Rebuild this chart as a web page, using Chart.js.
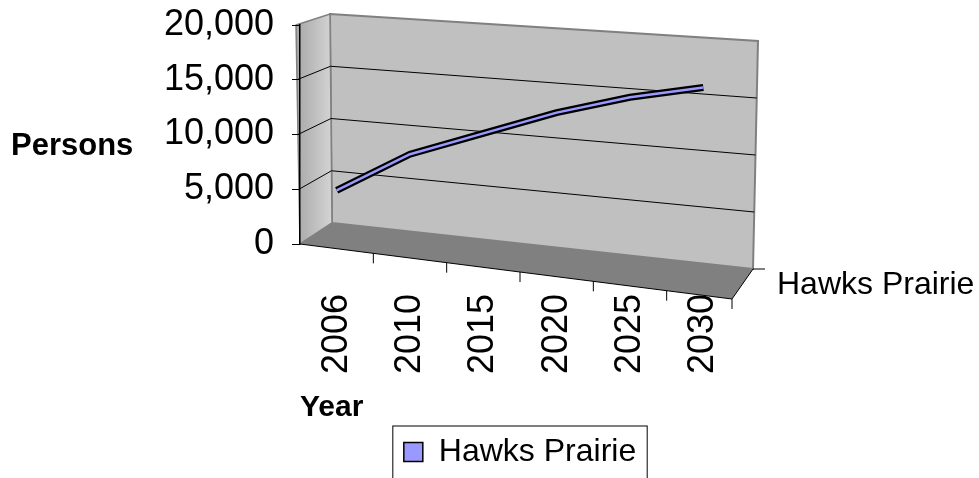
<!DOCTYPE html>
<html>
<head>
<meta charset="utf-8">
<script src="https://cdn.jsdelivr.net/npm/chart.js@4/dist/chart.umd.min.js"></script>
<style>
  body { margin: 0; background: #fff; }
  canvas { display: block; }
</style>
</head>
<body>
<canvas id="popChart" width="979" height="478"></canvas>
<script>
// Data
const years = ['2006', '2010', '2015', '2020', '2025', '2030'];
const persons = [4900, 8200, 10100, 12000, 13400, 14300];
const yTicks = [0, 5000, 10000, 15000, 20000];
const seriesName = 'Hawks Prairie';

const FONT = "'Liberation Sans', Arial, sans-serif";

// Draws the grey 3-D box (walls, floor, gridlines) around the plot area
const boxPlugin = {
    id: 'box3d',
    beforeDraw(chart) {
        const { ctx, chartArea } = chart;
        const L = chartArea.left, R = chartArea.right, T = chartArea.top, B = chartArea.bottom;
        const ys = chart.scales.y;
        const bwTL = [L + 30, T - 11], bwTR = [R + 18, T + 16];
        const bwBR = [R + 13, B + 25], bwBL = [L + 32, B - 21];
        const fr = [R - 8, B + 55];
        const poly = (pts, fill, stroke, lw) => {
            ctx.beginPath();
            ctx.moveTo(pts[0][0], pts[0][1]);
            pts.slice(1).forEach(p => ctx.lineTo(p[0], p[1]));
            ctx.closePath();
            if (fill) { ctx.fillStyle = fill; ctx.fill(); }
            if (stroke) { ctx.strokeStyle = stroke; ctx.lineWidth = lw; ctx.stroke(); }
        };
        ctx.save();
        // back wall
        poly([bwTL, bwTR, bwBR, bwBL], '#c0c0c0', '#808080', 2);
        // side wall
        const g = ctx.createLinearGradient(L - 4, T, L + 32, T);
        g.addColorStop(0, '#a8a8a8');
        g.addColorStop(1, '#d4d4d4');
        poly([[L - 4, T], bwTL, bwBL, [L, B]], g, '#808080', 1.5);
        // floor
        poly([[L, B], bwBL, bwBR, fr], '#808080', null, 0);

        // gridlines on side and back wall
        ctx.strokeStyle = '#000';
        ctx.lineWidth = 1;
        yTicks.slice(1, -1).forEach(v => {
            const yv = ys.getPixelForValue(v);
            const f = (B - yv) / (B - T);
            ctx.beginPath();
            ctx.moveTo(L - 4 * f, yv);
            ctx.lineTo(bwBL[0] - 2 * f, bwBL[1] - f * (bwBL[1] - bwTL[1]));
            ctx.lineTo(bwBR[0] + 5 * f, bwBR[1] - f * (bwBR[1] - bwTR[1]));
            ctx.stroke();
        });

        // front and side edges of floor
        ctx.beginPath();
        ctx.moveTo(L, B);
        ctx.lineTo(fr[0], fr[1]);
        ctx.lineTo(bwBR[0], bwBR[1]);
        ctx.lineTo(bwBR[0] + 12, bwBR[1]);
        ctx.moveTo(fr[0], fr[1]);
        ctx.lineTo(fr[0], fr[1] + 10);
        ctx.stroke();

        // category tick marks along the slanted front edge
        const xs = chart.scales.x;
        for (let i = 0; i < years.length - 1; i++) {
            const xb = (xs.getPixelForTick(i) + xs.getPixelForTick(i + 1)) / 2;
            const y0 = B + (xb - L) / (fr[0] - L) * 55;
            ctx.beginPath();
            ctx.moveTo(xb, y0);
            ctx.lineTo(xb, y0 + 10);
            ctx.stroke();
        }

        // free text labels
        ctx.fillStyle = '#000';
        ctx.textBaseline = 'middle';
        ctx.textAlign = 'left';
        ctx.font = 'bold 31px ' + FONT;
        ctx.fillText('Persons', 11, (T + B) / 2 + 12);
        ctx.font = '32px ' + FONT;
        ctx.fillText(seriesName, R + 37, B + 41);
        ctx.restore();
    },
    afterDatasetsDraw(chart) {
        // lighter inner stroke so the line reads as a ribbon
        const { ctx } = chart;
        const pts = chart.getDatasetMeta(0).data;
        ctx.save();
        ctx.beginPath();
        pts.forEach((p, i) => i ? ctx.lineTo(p.x, p.y) : ctx.moveTo(p.x, p.y));
        ctx.strokeStyle = '#9999ff';
        ctx.lineWidth = 2.5;
        ctx.lineJoin = 'round';
        ctx.stroke();
        ctx.restore();
    },
    afterDraw(chart) {
        // border round the legend
        const hb = chart.legend.legendHitBoxes[0];
        if (!hb) return;
        const { ctx } = chart;
        ctx.save();
        ctx.strokeStyle = '#000';
        ctx.lineWidth = 1;
        ctx.strokeRect(hb.left - 11, hb.top - 10, hb.width + 22, hb.height + 30);
        ctx.restore();
    }
};

new Chart(document.getElementById('popChart').getContext('2d'), {
    type: 'line',
    data: {
        labels: years,
        datasets: [{
            label: seriesName,
            data: persons,
            borderColor: '#000',
            backgroundColor: '#9999ff',
            borderWidth: 7,
            pointRadius: 0,
            tension: 0,
            fill: false
        }]
    },
    options: {
        responsive: false,
        animation: false,
        layout: { padding: { top: 25, right: 239, left: 0, bottom: 0 } },
        plugins: {
            tooltip: { enabled: false },
            legend: {
                position: 'bottom',
                fullSize: false,
                labels: {
                    boxWidth: 19,
                    boxHeight: 19,
                    padding: 10,
                    color: '#000',
                    font: { family: FONT, size: 32 },
                    generateLabels: (chart) => {
                        const items = Chart.defaults.plugins.legend.labels.generateLabels(chart);
                        items.forEach(it => { it.lineWidth = 1.5; it.strokeStyle = '#000'; });
                        return items;
                    }
                }
            }
        },
        scales: {
            x: {
                offset: true,
                afterFit: (scale) => { scale.height = 182; },
                grid: { display: false },
                border: { display: false },
                ticks: {
                    color: '#000',
                    maxRotation: 90,
                    minRotation: 90,
                    padding: 42,
                    font: { family: FONT, size: 36 }
                },
                title: {
                    display: true,
                    text: 'Year',
                    align: 'start',
                    color: '#000',
                    padding: { top: 12, bottom: 0 },
                    font: { family: FONT, size: 30, weight: 'bold' }
                }
            },
            y: {
                min: 0,
                max: 20000,
                afterFit: (scale) => {
                    scale.width = 300;
                    scale.paddingTop = 0;
                    scale.paddingBottom = 0;
                },
                afterBuildTicks: (scale) => { scale.ticks = yTicks.map(v => ({ value: v })); },
                grid: { drawOnChartArea: false, color: '#000', tickLength: 8 },
                border: { color: '#000', width: 1.5 },
                ticks: {
                    autoSkip: false,
                    color: '#000',
                    padding: 18,
                    font: { family: FONT, size: 36 },
                    callback: (v) => v.toLocaleString('en-US')
                }
            }
        }
    },
    plugins: [boxPlugin]
});
</script>
</body>
</html>
